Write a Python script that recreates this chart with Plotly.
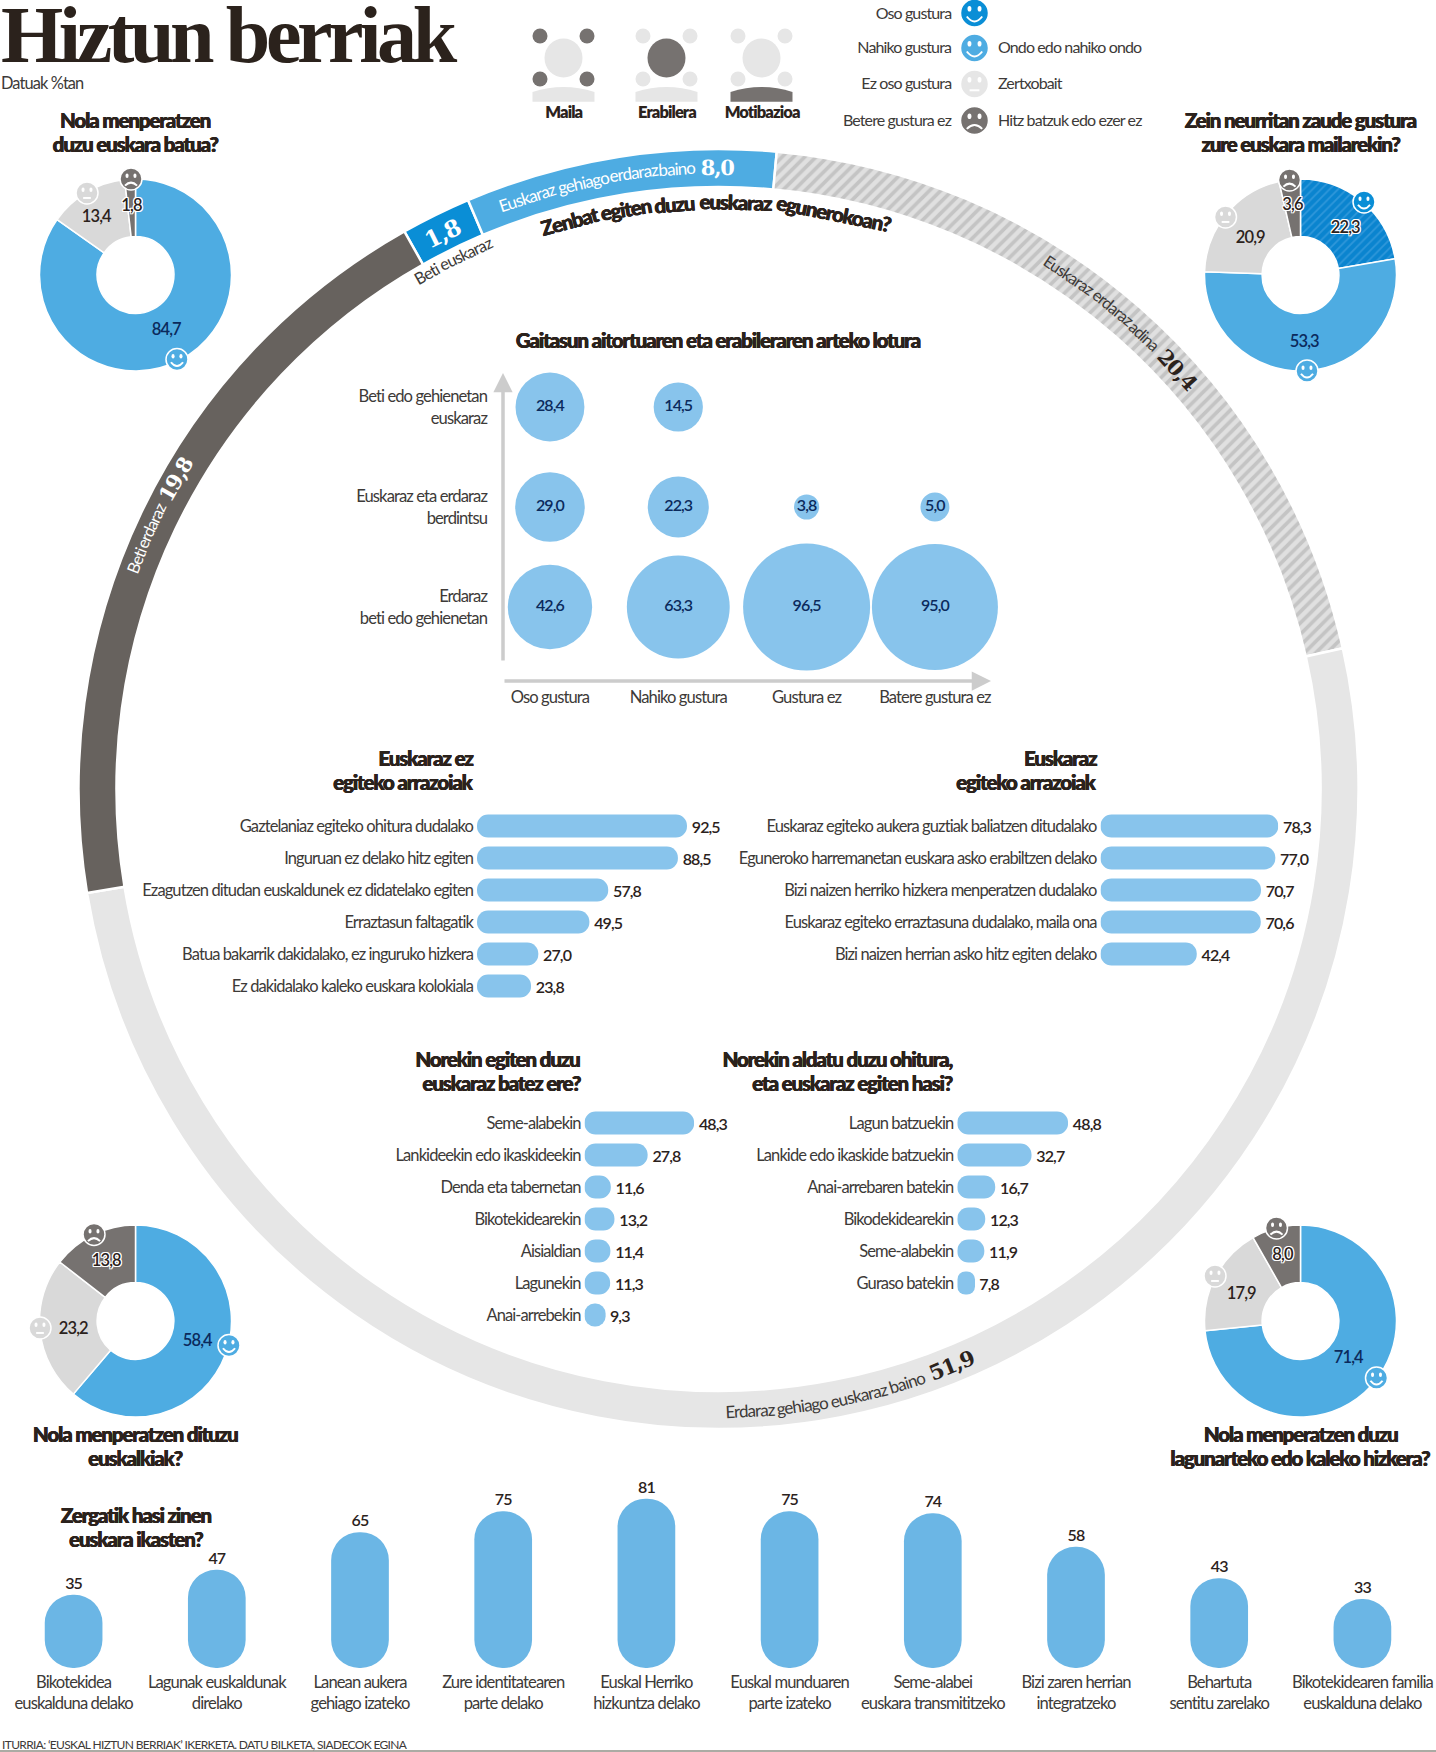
import math
import plotly.graph_objects as go

W, H = 1436, 1752
SANS = "Lato"
SERIF = "Liberation Serif"
SLAB = "DejaVu Serif"
DARK = "#2b221c"
TXT = "#3d3a38"
NAVY = "#0b2a5c"
BLUE = "#4eace2"
DBLUE = "#0a8ed6"
BAR = "#88c4ec"
PILL = "#6bb6e5"
LGRAY = "#d9d9d9"
RGRAY = "#e6e6e6"
DGRAY = "#67625e"
DONUTD = "#767270"

# ---- data ----
ring_labels = ["Beti euskaraz", "Euskaraz gehiago erdaraz baino", "Euskaraz erdaraz adina",
               "Erdaraz gehiago euskaraz baino", "Beti erdaraz"]
ring_values = [1.8, 8.0, 20.4, 51.9, 19.8]

donut_batua = [84.7, 13.4, 1.8]
donut_maila = [22.3, 53.3, 20.9, 3.6]
donut_euskalkiak = [58.4, 23.2, 13.8]
donut_kaleko = [71.4, 17.9, 8.0]

bubble_x = ["Oso gustura", "Nahiko gustura", "Gustura ez", "Batere gustura ez"]
bubble_y = ["Erdaraz<br>beti edo gehienetan", "Euskaraz eta erdaraz<br>berdintsu", "Beti edo gehienetan<br>euskaraz"]
bubble_erdaraz = [42.6, 63.3, 96.5, 95.0]
bubble_berdintsu = [29.0, 22.3, 3.8, 5.0]
bubble_euskaraz = [28.4, 14.5, None, None]

ez_cats = ["Gaztelaniaz egiteko ohitura dudalako", "Inguruan ez delako hitz egiten",
           "Ezagutzen ditudan euskaldunek ez didatelako egiten", "Erraztasun faltagatik",
           "Batua bakarrik dakidalako, ez inguruko hizkera", "Ez dakidalako kaleko euskara kolokiala"]
ez_vals = [92.5, 88.5, 57.8, 49.5, 27.0, 23.8]
bai_cats = ["Euskaraz egiteko aukera guztiak baliatzen ditudalako",
            "Eguneroko harremanetan euskara asko erabiltzen delako",
            "Bizi naizen herriko hizkera menperatzen dudalako",
            "Euskaraz egiteko erraztasuna dudalako, maila ona",
            "Bizi naizen herrian asko hitz egiten delako"]
bai_vals = [78.3, 77.0, 70.7, 70.6, 42.4]
batez_cats = ["Seme-alabekin", "Lankideekin edo ikaskideekin", "Denda eta tabernetan", "Bikotekidearekin",
              "Aisialdian", "Lagunekin", "Anai-arrebekin"]
batez_vals = [48.3, 27.8, 11.6, 13.2, 11.4, 11.3, 9.3]
aldatu_cats = ["Lagun batzuekin", "Lankide edo ikaskide batzuekin", "Anai-arrebaren batekin",
               "Bikodekidearekin", "Seme-alabekin", "Guraso batekin"]
aldatu_vals = [48.8, 32.7, 16.7, 12.3, 11.9, 7.8]

why_cats = ["Bikotekidea<br>euskalduna delako", "Lagunak euskaldunak<br>direlako", "Lanean aukera<br>gehiago izateko",
            "Zure identitatearen<br>parte delako", "Euskal Herriko<br>hizkuntza delako",
            "Euskal munduaren<br>parte izateko", "Seme-alabei<br>euskara transmititzeko",
            "Bizi zaren herrian<br>integratzeko", "Behartuta<br>sentitu zarelako",
            "Bikotekidearen familia<br>euskalduna delako"]
why_vals = [35, 47, 65, 75, 81, 75, 74, 58, 43, 33]


def fmt(v):
    return f"{v:.1f}".replace(".", ",")


def PX(x):
    return x / W


def PY(y):
    return 1 - y / H


fig = go.Figure()
annotations = []
shapes = []
axes = {}


def T(x, y, text, size=15, color=TXT, weight=400, anchor="center", angle=0, family=SANS, halo=False, heavy=False):
    font = dict(family=family, size=size, color=color, weight=weight)
    if halo:
        font["shadow"] = "1px 0 0 #fff,-1px 0 0 #fff,0 1px 0 #fff,0 -1px 0 #fff,1px 1px 0 #fff,-1px -1px 0 #fff,1px -1px 0 #fff,-1px 1px 0 #fff"
    if heavy:
        font["shadow"] = f"0.35px 0 0 {color},-0.35px 0 0 {color}"
    if anchor == "right":
        x += 2
    elif anchor == "left":
        x -= 2
    annotations.append(dict(x=PX(x), y=PY(y), xref="paper", yref="paper", text=text, showarrow=False,
                            xanchor=anchor, yanchor="middle", align=anchor, textangle=angle, font=font))


def heading(x, y, lines, anchor="center"):
    for k, line in enumerate(lines):
        T(x, y + (k - (len(lines) - 1) / 2) * 24.4, line, size=20.5, color=DARK, weight=900, heavy=True, anchor=anchor)


def domain_box(cx, cy, r):
    return dict(x=[PX(cx - r), PX(cx + r)], y=[PY(cy + r), PY(cy - r)])


def pie(vals, colors, cx, cy, r, hole, rotation=0, pattern=None, lw=1.5):
    marker = dict(colors=colors, line=dict(color="white", width=lw))
    if pattern:
        marker["pattern"] = pattern
    fig.add_trace(go.Pie(values=vals, sort=False, direction="clockwise", rotation=rotation, hole=hole,
                         domain=domain_box(cx, cy, r), textinfo="none", showlegend=False, hoverinfo="skip",
                         marker=marker))


# ---- big ring ----
CX, CY, RO, RI = 718.5, 789, 640, 602
pie(ring_values, [DBLUE, BLUE, LGRAY, RGRAY, DGRAY], CX, CY, RO, RI / RO, rotation=-29.4, lw=2.5,
    pattern=dict(shape=["", "", "/", "", ""], fgcolor="#c4c4c4", bgcolor="#e0e0e0", size=8, solidity=0.45))

# ---- donuts ----
R_D, HOLE_D = 96, 0.40
pie(donut_batua, [BLUE, LGRAY, DONUTD], 135.5, 275, R_D, HOLE_D)
pie(donut_maila, [DBLUE, BLUE, LGRAY, DONUTD], 1300.5, 275, R_D, HOLE_D,
    pattern=dict(shape=["/", "", "", ""], fgcolor="#2f97da", bgcolor="#0a84cf", size=6, solidity=0.3))
pie(donut_euskalkiak, [BLUE, LGRAY, DONUTD], 135.5, 1321, R_D, HOLE_D)
pie(donut_kaleko, [BLUE, LGRAY, DONUTD], 1300.5, 1321, R_D, HOLE_D)

donut_text = [
    (166, 329, donut_batua[0], NAVY, False), (97, 216, donut_batua[1], DARK, False), (131, 205, donut_batua[2], DARK, True),
    (1345, 227, donut_maila[0], DARK, True), (1304.5, 341, donut_maila[1], NAVY, False),
    (1250, 237, donut_maila[2], DARK, False), (1292, 204, donut_maila[3], DARK, True),
    (197, 1340, donut_euskalkiak[0], NAVY, False), (73, 1327.5, donut_euskalkiak[1], DARK, False),
    (106, 1260, donut_euskalkiak[2], DARK, True),
    (1348, 1356.5, donut_kaleko[0], NAVY, False), (1241, 1292.5, donut_kaleko[1], DARK, False),
    (1282, 1253.5, donut_kaleko[2], DARK, True),
]
for x, y, v, c, h in donut_text:
    T(x, y, fmt(v), size=16.5, color=c, weight=600, halo=h)


# ---- smileys ----
def oval(cx, cy, rx, ry, fill, line=None, lw=0):
    shapes.append(dict(type="circle", xref="paper", yref="paper", x0=PX(cx - rx), x1=PX(cx + rx),
                       y0=PY(cy + ry), y1=PY(cy - ry), fillcolor=fill, layer="above",
                       line=dict(color=line or fill, width=lw)))


def path(points, fill=None, line=None, lw=0):
    d = ""
    for p in points:
        if isinstance(p, str):
            d += p + " "
        else:
            d += f"{PX(p[0]):.6f},{PY(p[1]):.6f} "
    shapes.append(dict(type="path", xref="paper", yref="paper", path=d.strip(), layer="above",
                       fillcolor=fill or "rgba(0,0,0,0)", line=dict(color=line or "rgba(0,0,0,0)", width=lw)))


def smiley(cx, cy, r, kind, fill):
    oval(cx, cy, r, r, fill, "white", 1.5)
    e = r * 0.36
    oval(cx - e, cy - r * 0.3, r * 0.14, r * 0.2, "white")
    oval(cx + e, cy - r * 0.3, r * 0.14, r * 0.2, "white")
    m = r * 0.55
    if kind == "happy":
        path(["M", (cx - m, cy + r * 0.25), "Q", (cx, cy + r * 0.95), (cx + m, cy + r * 0.25)], line="white", lw=2)
    elif kind == "sad":
        path(["M", (cx - m, cy + r * 0.6), "Q", (cx, cy + r * 0.05), (cx + m, cy + r * 0.6)], line="white", lw=2)
    else:
        path(["M", (cx - r * 0.35, cy + r * 0.45), "L", (cx + r * 0.35, cy + r * 0.45)], line="white", lw=2)


for args in [(177, 359.5, "happy", BLUE), (87, 193, "flat", LGRAY), (131, 179, "sad", DONUTD),
             (1364, 202, "happy", DBLUE), (1307, 371, "happy", BLUE), (1225.5, 217, "flat", LGRAY), (1289.5, 180, "sad", DONUTD),
             (229, 1345.5, "happy", BLUE), (40, 1328, "flat", LGRAY), (94, 1234.5, "sad", DONUTD),
             (1376.5, 1378, "happy", BLUE), (1215, 1276, "flat", LGRAY), (1276.5, 1228, "sad", DONUTD)]:
    smiley(args[0], args[1], 11, args[2], args[3])

legend_rows = [13, 48, 84, 120.5]
for y, kind, col in zip(legend_rows, ["happy", "happy", "flat", "sad"], [DBLUE, BLUE, RGRAY, DONUTD]):
    smiley(974.5, y, 14, kind, col)
for y, t in zip(legend_rows, ["Oso gustura", "Nahiko gustura", "Ez oso gustura", "Betere gustura ez"]):
    T(950.5, y - 1, t, size=16, anchor="right")
for y, t in zip(legend_rows[1:], ["Ondo edo nahiko ondo", "Zertxobait", "Hitz batzuk edo ezer ez"]):
    T(998, y - 1, t, size=16, anchor="left")


# ---- header icons ----
def person(cx, head, dots, body):
    oval(cx, 58, 19, 19.5, head)
    for dx in (-23.5, 23.5):
        for y in (36, 79):
            oval(cx + dx, y, 7.5, 7.5, dots)
    path(["M", (cx - 31, 101.7), "L", (cx - 31, 92), "Q", (cx, 82), (cx + 31, 92), "L", (cx + 31, 101.7), "Z"], fill=body)


person(563.5, "#e6e6e6", "#767270", "#e6e6e6")
person(666.5, "#767270", "#e6e6e6", "#e6e6e6")
person(761.5, "#e6e6e6", "#e6e6e6", "#767270")
T(563.5, 112, "Maila", size=16.5, color=DARK, weight=800)
T(666.5, 112, "Erabilera", size=16.5, color=DARK, weight=800)
T(761.5, 112, "Motibazioa", size=16.5, color=DARK, weight=800)

# ---- titles ----
T(1, 35, "Hiztun berriak", size=80, color=DARK, weight=700, anchor="left", family=SERIF)
T(1, 83, "Datuak %tan", size=16.4, anchor="left")
heading(135, 132, ["Nola menperatzen", "duzu euskara batua?"])
heading(1300, 132, ["Zein neurritan zaude gustura", "zure euskara mailarekin?"])
heading(717.5, 340, ["Gaitasun aitortuaren eta erabileraren arteko lotura"])
heading(473, 770, ["Euskaraz ez", "egiteko arrazoiak"], anchor="right")
heading(1095.5, 770, ["Euskaraz", "egiteko arrazoiak"], anchor="right")
heading(580, 1071, ["Norekin egiten duzu", "euskaraz batez ere?"], anchor="right")
heading(952, 1071, ["Norekin aldatu duzu ohitura,", "eta euskaraz egiten hasi?"], anchor="right")
heading(135, 1446, ["Nola menperatzen dituzu", "euskalkiak?"])
heading(1300, 1446, ["Nola menperatzen duzu", "lagunarteko edo kaleko hizkera?"])
heading(135.5, 1527, ["Zergatik hasi zinen", "euskara ikasten?"])
T(2, 1744, "ITURRIA: ‘EUSKAL HIZTUN BERRIAK’ IKERKETA. DATU BILKETA, SIADECOK EGINA", size=12, anchor="left")
shapes.append(dict(type="line", xref="paper", yref="paper", x0=0, x1=1, y0=PY(1751), y1=PY(1751),
                   line=dict(color="#8f8f86", width=1.5), layer="above"))


# ---- curved ring text, word by word ----
def est(word, size, bold, fam):
    w = 0
    for c in word:
        if fam == SLAB:
            w += 0.4 if c == "," else 0.7
        elif c in "iljtfr,.'I1":
            w += 0.30
        elif c in "mwMW":
            w += 0.80
        elif c.isupper():
            w += 0.64
        else:
            w += 0.54
    if fam != SLAB:
        w *= 1.0 if bold else 0.94
    return w * size - 0.055 * size * len(word)


def arc_words(parts, phi0, r, cw=True):
    s = 0
    sign = 1 if cw else -1
    for word, size, fam, weight, col in parts:
        if fam == SLAB and s > 0:
            s += 0.15 * size
        w = est(word, size, weight >= 600, fam)
        phi = phi0 + sign * math.degrees((s + w / 2) / r)
        a = math.radians(phi)
        x, y = CX + r * math.sin(a), CY - r * math.cos(a)
        T(x, y, word, size=size, color=col, weight=weight, family=fam, angle=phi if cw else phi - 180,
          heavy=(fam == SANS and weight >= 800))
        s += w + 0.2 * size


def reg(phrase, size, col):
    return [(w, size, SANS, 400, col) for w in phrase.split()]


N = 21
arc_words(reg(ring_labels[0], 16.5, TXT), -30.7, 592)
arc_words(reg(ring_labels[1], 17, "white") + [(fmt(ring_values[1]), N, SLAB, 700, "white")], -20.7, 622)
arc_words(reg(ring_labels[2], 16.5, TXT) + [(fmt(ring_values[2]), N, SLAB, 700, DARK)], 31.6, 622)
arc_words(reg(ring_labels[3], 17, TXT) + [(fmt(ring_values[3]), N, SLAB, 700, DARK)], 179.3, 622, cw=False)
arc_words(reg(ring_labels[4], 16.5, "white") + [(fmt(ring_values[4]), N, SLAB, 700, "white")], -69.7, 625)
arc_words([(fmt(ring_values[0]), 23, SLAB, 700, "white")], -28.2, 621)
arc_words([(w, 20.5, SANS, 900, DARK) for w in "Zenbat egiten duzu euskaraz egunerokoan?".split()], -17.5, 587)

# ---- bubbles ----
AXF = dict(family=SANS, size=16.6, color=TXT)
axes["xaxis"] = dict(domain=[PX(503), PX(991)], range=[-0.366, 3.437], type="category", categoryorder="array",
                     categoryarray=bubble_x, showgrid=False, zeroline=False, showline=False, ticks="", automargin=False,
                     tickfont=AXF, anchor="y", ticklabelstandoff=4, tickangle=0)
axes["yaxis"] = dict(domain=[PY(681), PY(373)], range=[-0.74, 2.34], type="category", categoryorder="array",
                     categoryarray=bubble_y, showgrid=False, zeroline=False, showline=False, ticks="", automargin=False,
                     tickfont=AXF, anchor="x", ticklabelstandoff=15)
for row, vals in zip(bubble_y, [bubble_erdaraz, bubble_berdintsu, bubble_euskaraz]):
    xs = [c for c, v in zip(bubble_x, vals) if v is not None]
    vs = [v for v in vals if v is not None]
    fig.add_trace(go.Scatter(x=xs, y=[row] * len(xs), mode="markers+text", text=[fmt(v) for v in vs],
                             textposition="middle center", cliponaxis=False, showlegend=False, hoverinfo="skip",
                             textfont=dict(family=SANS, size=16, color=NAVY, weight=600),
                             marker=dict(size=vs, sizemode="area", sizeref=2 * 96.5 / 127 ** 2, color=BAR,
                                         opacity=1, line=dict(width=0))))

# axis arrows
for x, y, ax, ay in [(503, 373, 0, 289), (991, 681, -488, 0)]:
    annotations.append(dict(x=PX(x), y=PY(y), xref="paper", yref="paper", text="", showarrow=True,
                            ax=ax, ay=ay, arrowhead=2, arrowsize=1.1, arrowwidth=3.5, arrowcolor="#cccccc"))


# ---- horizontal bars: an explicit base rounds both ends ----
def hbar(i, cats, vals, x0, y0, scale=2.27):
    w = max(vals) * scale
    n = len(cats)
    axes[f"xaxis{i}"] = dict(domain=[PX(x0), PX(x0 + w)], range=[0, max(vals)], visible=False, anchor=f"y{i}",
                             fixedrange=True, automargin=False)
    axes[f"yaxis{i}"] = dict(domain=[PY(y0 + 32 * (n - 1) + 16), PY(y0 - 16)], range=[n - 0.5, -0.5], type="category",
                             categoryorder="array", categoryarray=cats, showgrid=False, zeroline=False, showline=False,
                             ticks="", tickfont=dict(AXF, size=16.5), anchor=f"x{i}", ticklabelstandoff=3, automargin=False)
    fig.add_trace(go.Bar(x=vals, y=cats, base=[0] * n, orientation="h", xaxis=f"x{i}", yaxis=f"y{i}", width=23 / 32,
                         marker=dict(color=BAR, cornerradius=11.5, line=dict(width=0)),
                         cliponaxis=False, showlegend=False, hoverinfo="skip",
                         text=[fmt(v) for v in vals], textposition="outside", constraintext="none", textangle=0,
                         outsidetextfont=dict(family=SANS, size=16, color=DARK, weight=600)))


hbar(2, ez_cats, ez_vals, 477, 826)
hbar(3, bai_cats, bai_vals, 1100.5, 826)
hbar(4, batez_cats, batez_vals, 584.5, 1123)
hbar(5, aldatu_cats, aldatu_vals, 957.3, 1123)

# ---- vertical pills ----
axes["xaxis6"] = dict(domain=[PX(2), PX(1434)], type="category", categoryorder="array", categoryarray=why_cats,
                      range=[-0.5, 9.5], showgrid=False, zeroline=False, showline=False, ticks="", anchor="y6", automargin=False,
                      tickfont=dict(family=SANS, size=16.6, color=TXT), tickangle=0, ticklabelstandoff=2)
axes["yaxis6"] = dict(domain=[PY(1668), PY(1480)], range=[0, 188 / 2.09], visible=False, anchor="x6", fixedrange=True, automargin=False)
fig.add_trace(go.Bar(x=why_cats, y=why_vals, base=[0] * len(why_vals), xaxis="x6", yaxis="y6", width=57.7 / 143.2,
                     marker=dict(color=PILL, cornerradius=28.8, line=dict(width=0)),
                     cliponaxis=False, showlegend=False, hoverinfo="skip",
                     text=[str(v) for v in why_vals], textposition="outside", constraintext="none", textangle=0,
                     outsidetextfont=dict(family=SANS, size=16, color=DARK, weight=600)))

fig.update_layout(width=W, height=H, margin=dict(l=0, r=0, t=0, b=0, autoexpand=False), paper_bgcolor="white",
                  plot_bgcolor="rgba(0,0,0,0)", showlegend=False, annotations=annotations, shapes=shapes,
                  barmode="overlay", **axes)

fig.write_html("out.html", config={"displayModeBar": False},
               post_script="var s=document.createElement('style');s.textContent='html,body{margin:0}.main-svg text{letter-spacing:-0.055em}';document.head.appendChild(s);")
